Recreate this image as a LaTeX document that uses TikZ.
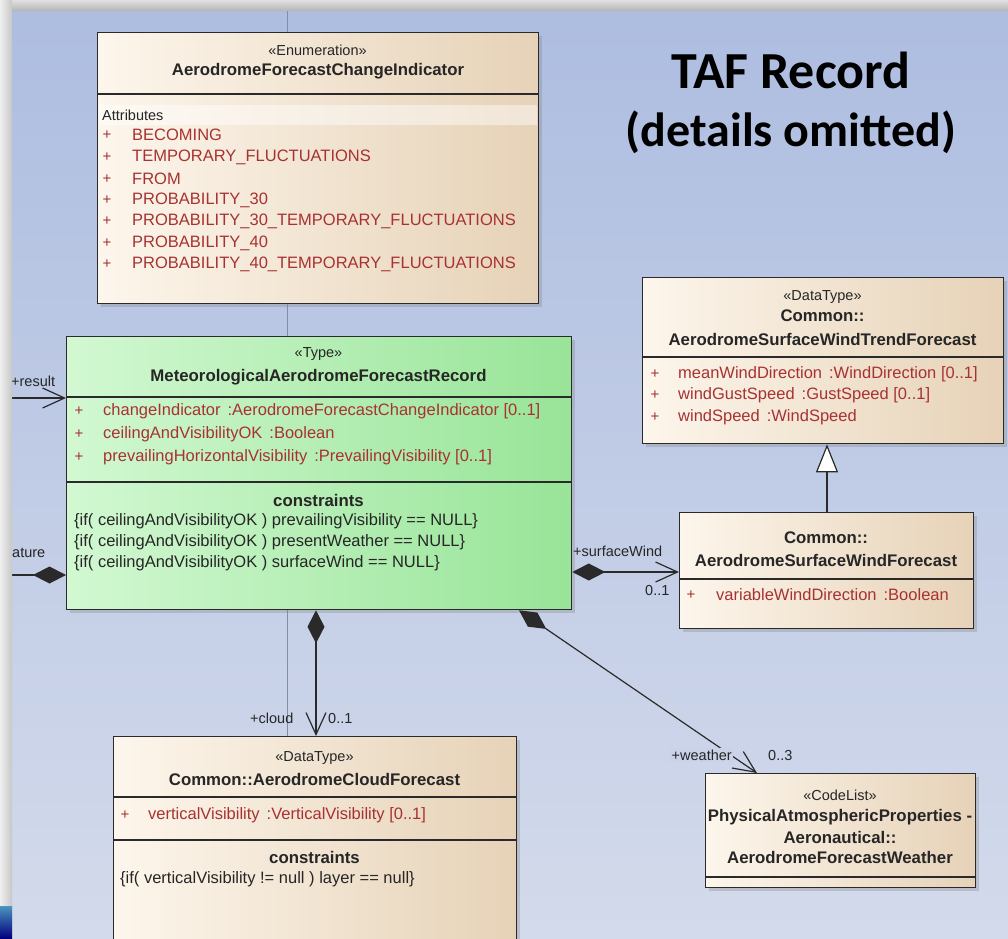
\documentclass[tikz,border=0pt]{standalone}
\usepackage{fontspec}
\setmainfont{Liberation Sans}
\newfontfamily\titlefont{Carlito}
\usetikzlibrary{arrows.meta,shadows,calc}
\definecolor{attr}{HTML}{A83232}
\definecolor{txt}{HTML}{262626}
\definecolor{bord}{HTML}{2A2A2A}
\definecolor{beigeL}{HTML}{FDF6EC}
\definecolor{beigeR}{HTML}{E6D2B7}
\definecolor{greenL}{HTML}{D2F8D2}
\definecolor{greenR}{HTML}{98E498}
\definecolor{bgTop}{HTML}{ADBDE0}
\definecolor{bgBot}{HTML}{D3DAEB}
\definecolor{bgMid}{HTML}{C9D2E8}
\tikzset{
  umlbox/.style={draw=bord, line width=1.3pt, anchor=north west, inner sep=0pt,
    drop shadow={shadow xshift=3pt,shadow yshift=-3pt,opacity=0.3}},
  beige/.style={umlbox, left color=beigeL, right color=beigeR},
  greenbox/.style={umlbox, left color=greenL, right color=greenR},
  sepline/.style={draw=bord, line width=1.3pt},
  stereo/.style={font=\fontsize{14.5}{17}\selectfont, text=txt, inner sep=0pt},
  cname/.style={font=\fontsize{16.8}{19}\selectfont\bfseries, text=txt, inner sep=0pt},
  attrtxt/.style={font=\fontsize{16.5}{19}\selectfont, text=attr, anchor=west, inner sep=0pt},
  plus/.style={font=\fontsize{15}{18}\selectfont, text=attr, inner sep=0pt},
  constr/.style={font=\fontsize{16.5}{19}\selectfont, text=txt, anchor=west, inner sep=0pt},
  lbl/.style={font=\fontsize{14.5}{17}\selectfont, text=txt, anchor=west, inner sep=0pt},
  conn/.style={draw=bord, line width=1.2pt},
  opentip/.style={-{Straight Barb[length=22pt,width=20pt]}},
  diamondtip/.style={{Diamond[length=33pt,width=17pt]}-},
  comptip/.style={{Diamond[length=33pt,width=17pt]}-{Straight Barb[length=22pt,width=20pt]}},
  gentip/.style={-{Triangle[length=28pt,width=22pt,fill=white]}},
  titletext/.style={font=\titlefont\bfseries, text=black, inner sep=0pt}
}
\begin{document}
\begin{tikzpicture}[x=1pt,y=-1pt]
\useasboundingbox (0,0) rectangle (1008,938);
\clip (0,0) rectangle (1008,938);
% background
\shade[top color=bgTop, bottom color=bgBot] (0,0) rectangle (1008,938);
\draw[color=black!25!bgTop, line width=0.7pt] (287,10) -- (287,938);

% title
\node[titletext, font=\titlefont\bfseries\fontsize{52}{58}\selectfont] (t1) at (791,70) {TAF Record};
\node[titletext, font=\titlefont\bfseries\fontsize{48}{56}\selectfont] (t2) at (791,132) {(details omitted)};

% ---------- Enumeration box
\node[beige, minimum width=441pt, minimum height=271pt] (enum) at (97,32) {};
\draw[sepline] ([yshift=-62pt]enum.north west) -- ([yshift=-62pt]enum.north east);
\fill[white, opacity=0.45] (98.5,105) rectangle (536.5,125);
\node[stereo] (enumst) at (317.5,50) {«Enumeration»};
\node[cname] (enumnm) at (318,71) {AerodromeForecastChangeIndicator};
\node[font=\fontsize{14.5}{17}\selectfont, text=txt, anchor=west, inner sep=0pt] (enumat) at (102,115) {Attributes};
\foreach \i/\y/\t in {1/135/BECOMING, 2/157/TEMPORARY\_FLUCTUATIONS, 3/179/FROM,
   4/200/PROBABILITY\_30, 5/221/PROBABILITY\_30\_TEMPORARY\_FLUCTUATIONS,
   6/243/PROBABILITY\_40, 7/264/PROBABILITY\_40\_TEMPORARY\_FLUCTUATIONS}{
  \node[plus] (ep\i) at (107,\y) {+};
  \node[attrtxt] (ea\i) at (132,\y) {\t};
}

% ---------- Main green box
\node[greenbox, minimum width=505pt, minimum height=273pt] (green) at (66,336) {};
\draw[sepline] ([yshift=-61pt]green.north west) -- ([yshift=-61pt]green.north east);
\draw[sepline] ([yshift=-146pt]green.north west) -- ([yshift=-146pt]green.north east);
\node[stereo] (grst) at (318.5,354) {«Type»};
\node[cname] (grnm) at (318.5,377) {MeteorologicalAerodromeForecastRecord};
\node[plus] (gp1) at (79,411) {+};
\node[plus] (gp2) at (79,434) {+};
\node[plus] (gp3) at (79,457) {+};
\node[attrtxt] (ga1) at (103,411) {changeIndicator\hspace{7pt}:AerodromeForecastChangeIndicator [0..1]};
\node[attrtxt] (ga2) at (103,434) {ceilingAndVisibilityOK\hspace{7pt}:Boolean};
\node[attrtxt] (ga3) at (103,457) {prevailingHorizontalVisibility\hspace{7pt}:PrevailingVisibility [0..1]};
\node[cname] (grcs) at (318.5,500) {constraints};
\node[constr] (gc1) at (74,521) {\{if( ceilingAndVisibilityOK ) prevailingVisibility == NULL\}};
\node[constr] (gc2) at (74,542) {\{if( ceilingAndVisibilityOK ) presentWeather == NULL\}};
\node[constr] (gc3) at (74,563) {\{if( ceilingAndVisibilityOK ) surfaceWind == NULL\}};

% ---------- Trend forecast box
\node[beige, minimum width=361pt, minimum height=166pt] (trend) at (642,277) {};
\draw[sepline] ([yshift=-80pt]trend.north west) -- ([yshift=-80pt]trend.north east);
\node[stereo] (trst) at (822.5,297) {«DataType»};
\node[cname] (trn1) at (822.5,316) {Common::};
\node[cname] (trn2) at (822.5,339) {AerodromeSurfaceWindTrendForecast};
\node[plus] (tp1) at (655,374) {+};
\node[plus] (tp2) at (655,395) {+};
\node[plus] (tp3) at (655,417) {+};
\node[attrtxt] (ta1) at (678,374) {meanWindDirection\hspace{7pt}:WindDirection [0..1]};
\node[attrtxt] (ta2) at (678,395) {windGustSpeed\hspace{7pt}:GustSpeed [0..1]};
\node[attrtxt] (ta3) at (678,417) {windSpeed\hspace{7pt}:WindSpeed};

% ---------- Surface wind forecast box
\node[beige, minimum width=294pt, minimum height=116pt] (wind) at (679,512) {};
\draw[sepline] ([yshift=-67pt]wind.north west) -- ([yshift=-67pt]wind.north east);
\node[cname] (wn1) at (826,538) {Common::};
\node[cname] (wn2) at (826,560) {AerodromeSurfaceWindForecast};
\node[plus] (wp1) at (691,595) {+};
\node[attrtxt] (wa1) at (716,595) {variableWindDirection\hspace{7pt}:Boolean};

% ---------- Cloud forecast box
\node[beige, minimum width=403pt, minimum height=214pt] (cloud) at (113,736) {};
\draw[sepline] ([yshift=-61pt]cloud.north west) -- ([yshift=-61pt]cloud.north east);
\draw[sepline] ([yshift=-104pt]cloud.north west) -- ([yshift=-104pt]cloud.north east);
\node[stereo] (clst) at (314.5,758) {«DataType»};
\node[cname] (clnm) at (314.5,779) {Common::AerodromeCloudForecast};
\node[plus] (cp1) at (125,815) {+};
\node[attrtxt] (ca1) at (148,815) {verticalVisibility\hspace{7pt}:VerticalVisibility [0..1]};
\node[cname] (clcs) at (314.5,857) {constraints};
\node[constr] (cc1) at (120,879) {\{if( verticalVisibility != null ) layer == null\}};

% ---------- Code list box
\node[beige, minimum width=270pt, minimum height=114pt] (codelist) at (705,773) {};
\draw[sepline] ([yshift=-104pt]codelist.north west) -- ([yshift=-104pt]codelist.north east);
\node[stereo] (cdst) at (840,795) {«CodeList»};
\node[cname] (cdn1) at (840,817) {PhysicalAtmosphericProperties -};
\node[cname] (cdn2) at (840,837) {Aeronautical::};
\node[cname] (cdn3) at (840,857) {AerodromeForecastWeather};

% ---------- Connectors
\coordinate (resL) at (12,398);
\coordinate (atL) at (12,575);
\draw[conn, opentip] (resL) -- (resL -| green.west);
\draw[conn, diamondtip] (atL -| green.west) -- (atL);
\draw[conn, comptip] ([yshift=-236pt]green.north east) -- ([yshift=-60pt]wind.north west);
\draw[conn, gentip] ([xshift=148pt]wind.north west) -- ([xshift=185pt]trend.south west);
\draw[conn, comptip] ([xshift=250pt]green.south west) -- ([xshift=203pt]cloud.north west);
\draw[conn, comptip] ([xshift=453pt]green.south west) -- ([xshift=52pt]codelist.north west);

% ---------- Connector labels
\node[lbl] (lres) at (11,381) {+result};
\node[lbl] (lat) at (12,553) {ature};
\node[lbl] (lsw) at (573,551) {+surfaceWind};
\node[lbl] (lsw1) at (645,590) {0..1};
\node[lbl] (lcl) at (250,718) {+cloud};
\node[lbl] (lcl1) at (328,718) {0..1};
\node[lbl, fill=bgMid, inner sep=1.5pt] (lwe) at (670,755) {+weather};
\node[lbl] (lwe1) at (768,755) {0..3};

% ---------- frame strips
\shade[top color=black!12, bottom color=black!28] (0,0) rectangle (1008,10);
\shade[left color=black!6, right color=black!22] (0,0) rectangle (12,938);
\shade[top color=blue!40!black!60!cyan!70, bottom color=blue!50!black] (0,906) rectangle (12,938);
\end{tikzpicture}
\end{document}
